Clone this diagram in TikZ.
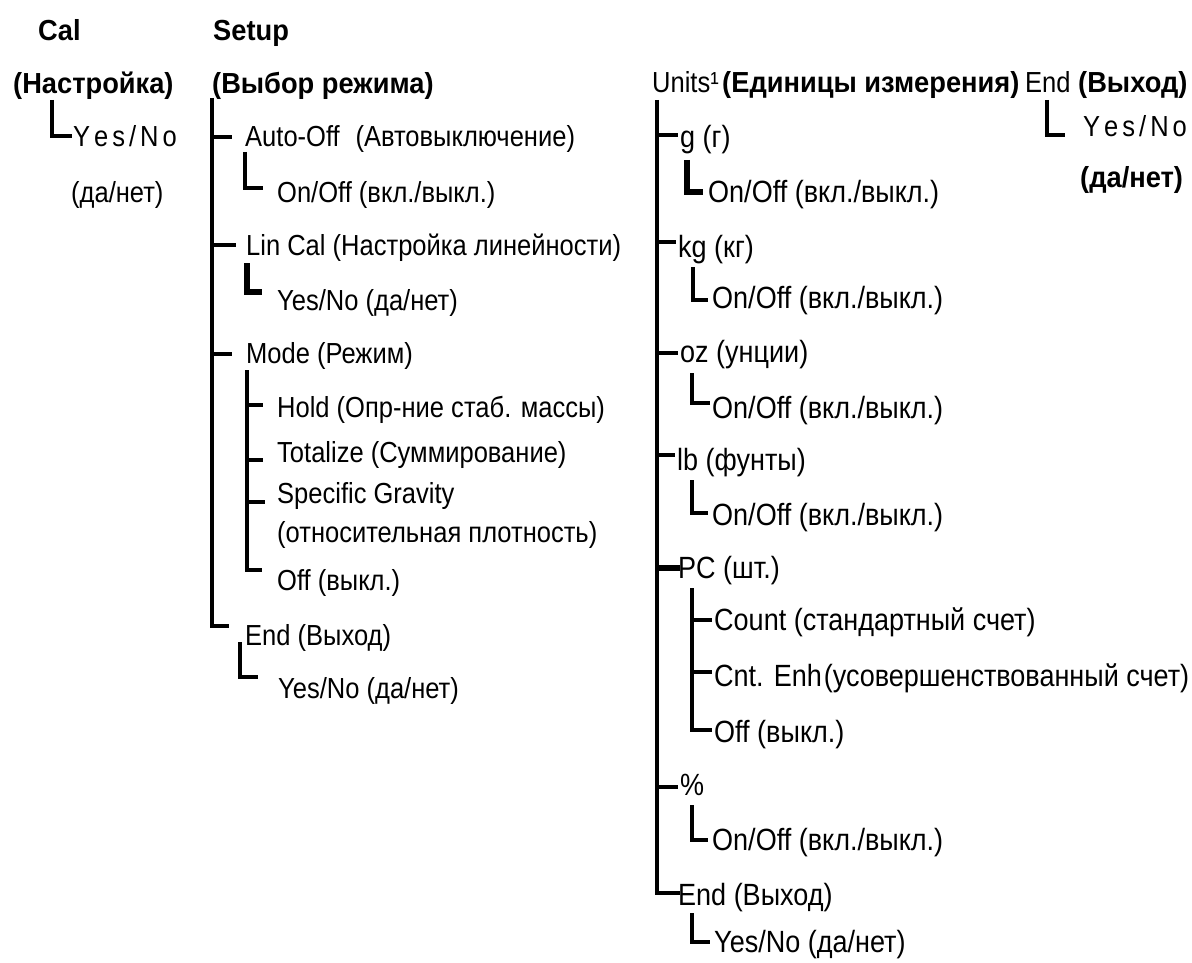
\documentclass[tikz,border=0pt]{standalone}
\usepackage{fontspec}
\newfontfamily\reg{Liberation Sans}[FakeStretch=0.88]
\newfontfamily\bld{Liberation Sans}[FakeStretch=0.94]
\newcommand\lsyesno{Y\kern4pt e\kern4pt s\kern4pt /\kern4pt N\kern4pt o}
\begin{document}
\begin{tikzpicture}[x=1pt,y=-1pt,
  t/.style={anchor=base west, inner sep=0pt, font=\reg\fontsize{29}{31}\selectfont},
  tu/.style={anchor=base west, inner sep=0pt, font=\reg\fontsize{30.7}{32}\selectfont},
  tb/.style={anchor=base west, inner sep=0pt, font=\bld\bfseries\fontsize{29}{31}\selectfont},
  ln/.style={line width=4.2pt, line join=miter},
  lnb/.style={line width=5.5pt, line join=miter}]
\useasboundingbox (0,0) rectangle (1192,963);
% ---------- Cal ----------
\node[tb] (cal) at (38,41) {Cal};
\node[tb] (calru) at (13,94) {(Настройка)};
\node[t] (calyn) at (73,147) {\lsyesno};
\node[t] (calda) at (71,203) {(да/нет)};
\draw[ln] (52,100) -- (52,136) -- (72,136);
% ---------- Setup ----------
\node[tb] (setup) at (213,41) {Setup};
\node[tb] (setupru) at (212,94) {(Выбор режима)};
\draw[ln] (212,98) -- (212,626) -- (229,626);
\draw[ln] (212,137) -- (232,137);
\draw[ln] (212,245) -- (236,245);
\draw[ln] (212,354) -- (232,354);
\node[t] (auto) at (245,147) {Auto-Off\hspace{0.3em} (Автовыключение)};
\draw[ln] (245,152) -- (245,188) -- (263,188);
\node[t] (autoon) at (277,202) {On/Off (вкл./выкл.)};
\node[t] (lin) at (246,255) {Lin Cal (Настройка линейности)};
\draw[lnb] (247,263) -- (247,292) -- (262,292);
\node[t] (linyn) at (277,310) {Yes/No (да/нет)};
\node[t] (mode) at (246,363) {Mode (Режим)};
\draw[ln] (247,370) -- (247,570) -- (262,570);
\draw[ln] (247,405) -- (263,405);
\draw[ln] (247,460) -- (263,460);
\draw[ln] (247,502) -- (265,502);
\node[t] (hold) at (277,417) {Hold (Опр-ние стаб. массы)};
\node[t] (tot) at (277,462) {Totalize (Суммирование)};
\node[t] (sg) at (277,503) {Specific Gravity};
\node[t] (sgru) at (277,542) {(относительная плотность)};
\node[t] (off) at (277,590) {Off (выкл.)};
\node[t] (send) at (245,645) {End (Выход)};
\draw[ln] (240,642) -- (240,677) -- (258,677);
\node[t] (sendyn) at (278,698) {Yes/No (да/нет)};
% ---------- Units ----------
\node[t] (units) at (652,93) {Units¹};
\node[tb, anchor=base west] (unitsru) at ([xshift=3pt]units.base east) {(Единицы измерения)};
\draw[ln] (657,100) -- (657,893) -- (680,893);
\draw[ln] (657,135) -- (678,135);
\node[tu] (g) at (680,148) {g (г)};
\draw[lnb] (687,160) -- (687,192) -- (703,192);
\node[tu] (gon) at (708,202) {On/Off (вкл./выкл.)};
\draw[ln] (657,242) -- (676,242);
\node[tu] (kg) at (678,257) {kg (кг)};
\draw[ln] (693,267) -- (693,300) -- (708,300);
\node[tu] (kgon) at (712,308) {On/Off (вкл./выкл.)};
\draw[ln] (657,353) -- (678,353);
\node[tu] (oz) at (680,362) {oz (унции)};
\draw[ln] (692,373) -- (692,403) -- (710,403);
\node[tu] (ozon) at (712,418) {On/Off (вкл./выкл.)};
\draw[ln] (657,455) -- (675,455);
\node[tu] (lb) at (677,470) {lb (фунты)};
\draw[ln] (692,480) -- (692,513) -- (708,513);
\node[tu] (lbon) at (712,525) {On/Off (вкл./выкл.)};
\draw[lnb] (657,568) -- (680,568);
\node[tu] (pc) at (678,578) {PC (шт.)};
\draw[ln] (692,588) -- (692,730) -- (712,730);
\draw[ln] (692,620) -- (712,620);
\draw[ln] (692,672) -- (712,672);
\node[tu] (count) at (714,630) {Count (стандартный счет)};
\node[tu] (cnt) at (714,686) {Cnt. Enh\kern2pt(усовершенствованный счет)};
\node[tu] (pcoff) at (714,742) {Off (выкл.)};
\draw[ln] (657,787) -- (678,787);
\node[tu] (pct) at (680,795) {\%};
\draw[ln] (692,805) -- (692,840) -- (708,840);
\node[tu] (pcton) at (712,850) {On/Off (вкл./выкл.)};
\node[tu] (uend) at (678,905) {End (Выход)};
\draw[ln] (692,913) -- (692,942) -- (710,942);
\node[tu] (uendyn) at (714,952) {Yes/No (да/нет)};
% ---------- End ----------
\node[t] (end) at (1025,93) {End};
\node[tb] (endru) at (1078,93) {(Выход)};
\draw[ln] (1047,100) -- (1047,135) -- (1065,135);
\node[t] (endyn) at (1083,137) {\lsyesno};
\node[tb] (endda) at (1080,187) {(да/нет)};
\end{tikzpicture}
\end{document}
